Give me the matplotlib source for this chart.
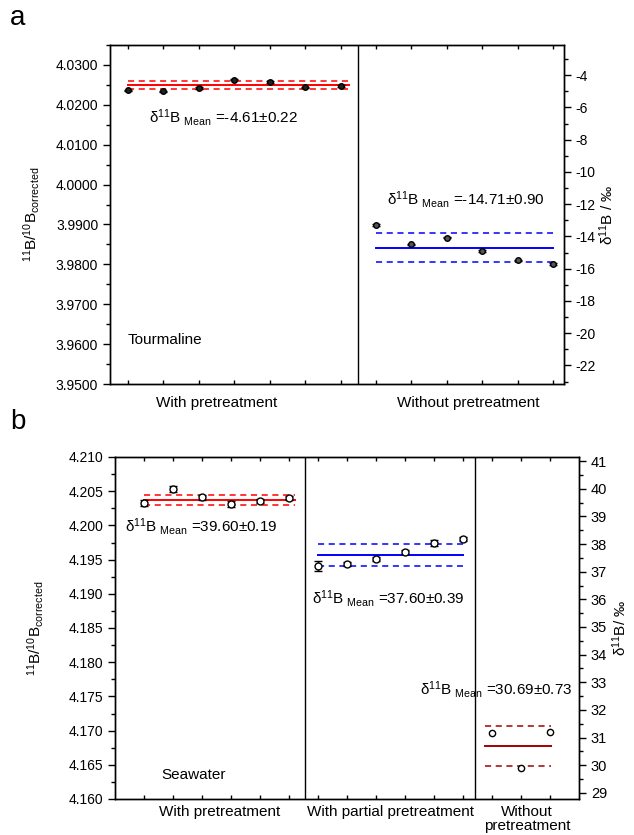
import numpy as np
import matplotlib.pyplot as plt
from matplotlib.ticker import MultipleLocator, FixedLocator

plt.rcParams['font.family'] = ['Liberation Sans', 'DejaVu Sans']
plt.rcParams['mathtext.fontset'] = 'custom'
plt.rcParams['mathtext.rm'] = 'Liberation Sans'
plt.rcParams['mathtext.default'] = 'regular'
plt.rcParams['axes.unicode_minus'] = False

# NIST SRM 951 ratio, used for the delta scale
R_STD = 4.04362

# --- panel a: tourmaline ---
tour_with = [4.0236, 4.0234, 4.0242, 4.0263, 4.0257, 4.0244, 4.0247]
tour_with_err = [0.00015, 0.00015, 0.00015, 0.00015, 0.00015, 0.00015, 0.00015]
tour_without = [3.9898, 3.9850, 3.9867, 3.9834, 3.9810, 3.9801]
tour_without_err = [0.0002, 0.0002, 0.0002, 0.0002, 0.0002, 0.0002]
tour_mean = [-4.61, -14.71]
tour_sd = [0.22, 0.90]
tour_groups = ['With pretreatment', 'Without pretreatment']

# --- panel b: seawater ---
sw_with = [4.2033, 4.2053, 4.2041, 4.2031, 4.2036, 4.2040]
sw_with_err = [0.0004, 0.0004, 0.0004, 0.0004, 0.0003, 0.0003]
sw_partial = [4.1941, 4.1944, 4.1951, 4.1961, 4.1974, 4.1980]
sw_partial_err = [0.0007, 0.0003, 0.0003, 0.0003, 0.0004, 0.0003]
sw_without = [4.1697, 4.1645, 4.1698]
sw_mean = [39.60, 37.60, 30.69]
sw_sd = [0.19, 0.39, 0.73]
sw_groups = ['With pretreatment', 'With partial pretreatment', 'Without\npretreatment']


def to_ratio(d):
    return R_STD * (1 + d / 1000.0)


def to_delta(r):
    return (r / R_STD - 1) * 1000.0


def mean_band(ax, x0, x1, d, sd, color, dcolor=None):
    dcolor = dcolor or color
    r = to_ratio(d)
    band = to_ratio(d + sd) - r
    ax.plot([x0, x1], [r, r], color=color, lw=1.4)
    ax.plot([x0, x1], [r + band, r + band], color=dcolor, lw=1.1, ls=(0, (4, 3)))
    ax.plot([x0, x1], [r - band, r - band], color=dcolor, lw=1.1, ls=(0, (4, 3)))


def style(ax, ax2, ylim, ymaj, ymin, d_maj, d_min, yfmt, fs_r, xpad):
    ax.set_ylim(*ylim)
    ax.yaxis.set_major_locator(MultipleLocator(ymaj))
    ax.yaxis.set_minor_locator(MultipleLocator(ymin))
    ax.yaxis.set_major_formatter(plt.FormatStrFormatter(yfmt))
    ax.tick_params(axis='y', which='major', direction='out', length=5, width=1, labelsize=10)
    ax.tick_params(axis='y', which='minor', direction='out', length=3, width=1)
    ax.tick_params(axis='x', which='major', length=0, labelsize=11, pad=xpad)
    ax.tick_params(axis='x', which='minor', direction='in', length=3, width=1, top=True, bottom=True)
    ax2.set_ylim(to_delta(ylim[0]), to_delta(ylim[1]))
    ax2.yaxis.set_major_locator(MultipleLocator(d_maj))
    ax2.yaxis.set_minor_locator(MultipleLocator(d_min))
    ax2.tick_params(axis='y', which='major', direction='out', length=5, width=1, labelsize=fs_r)
    ax2.tick_params(axis='y', which='minor', direction='out', length=3, width=1)
    for a in (ax, ax2):
        for s in a.spines.values():
            s.set_linewidth(1)


fig = plt.figure(figsize=(6.34, 8.35), dpi=100)

# ------------------ panel a ------------------
ax_a = fig.add_axes([110 / 634, 1 - 384 / 835, 454 / 634, 339 / 835])
ax_a2 = ax_a.twinx()
xa1 = np.arange(1, len(tour_with) + 1)
xa2 = np.arange(len(tour_with) + 1, len(tour_with) + len(tour_without) + 1)

mean_band(ax_a, 1.0, 7.25, tour_mean[0], tour_sd[0], 'red')
mean_band(ax_a, 8.0, 13.0, tour_mean[1], tour_sd[1], 'blue')
ax_a.errorbar(xa1, tour_with, yerr=tour_with_err, fmt='o', ms=4, mfc='#222222', mec='black',
              mew=1, ecolor='black', elinewidth=1, capsize=3, capthick=1, zorder=5)
ax_a.errorbar(xa2, tour_without, yerr=tour_without_err, fmt='o', ms=4, mfc='#555555', mec='black',
              mew=1, ecolor='black', elinewidth=1, capsize=3, capthick=1, zorder=5)
ax_a.axvline(7.5, color='black', lw=1)
ax_a.set_xlim(0.5, 13.3)
ax_a.set_xticks([3.5, 10.6])
ax_a.set_xticklabels(tour_groups)
ax_a.xaxis.set_minor_locator(FixedLocator(np.arange(1, 14)))
style(ax_a, ax_a2, (3.95, 4.035), 0.01, 0.005, 2, 1, '%.4f', 10, 9)
ax_a.set_ylabel('$^{11}$B/$^{10}$B$_{corrected}$', fontsize=11, labelpad=10)
ax_a2.set_ylabel('δ$^{11}$B / ‰', fontsize=11, labelpad=1)

ax_a.text(1.6, 4.0168, 'δ$^{11}$B$_{\\ Mean}$ =-4.61±0.22', fontsize=11, va='center')
ax_a.text(8.3, 3.9962, 'δ$^{11}$B$_{\\ Mean}$ =-14.71±0.90', fontsize=11, va='center')
ax_a.text(1.0, 3.9610, 'Tourmaline', fontsize=11, va='center')
fig.text(10 / 634, 1 - 18 / 835, 'a', fontsize=20, va='center')

# ------------------ panel b ------------------
ax_b = fig.add_axes([115 / 634, 1 - 799 / 835, 464 / 634, 342 / 835])
ax_b2 = ax_b.twinx()
xb1 = np.arange(1, 7)
xb2 = np.arange(7, 13)
xb3 = np.arange(13, 16)

mean_band(ax_b, 1.0, 6.2, sw_mean[0], sw_sd[0], 'red')
mean_band(ax_b, 7.0, 12.0, sw_mean[1], sw_sd[1], 'blue')
mean_band(ax_b, 12.75, 15.05, sw_mean[2], sw_sd[2], '#a00000')
ax_b.errorbar(xb1, sw_with, yerr=sw_with_err, fmt='o', ms=5, mfc='white', mec='black',
              mew=1, ecolor='black', elinewidth=1, capsize=3, capthick=1, zorder=5)
ax_b.errorbar(xb2, sw_partial, yerr=sw_partial_err, fmt='o', ms=5, mfc='white', mec='black',
              mew=1, ecolor='black', elinewidth=1, capsize=3, capthick=1, zorder=5)
ax_b.plot(xb3, sw_without, 'o', ms=4.5, mfc='white', mec='black', mew=1, zorder=5)
ax_b.axvline(6.55, color='black', lw=1)
ax_b.axvline(12.42, color='black', lw=1)
ax_b.set_xlim(0, 16)
ax_b.set_xticks([3.6, 9.5, 14.2])
ax_b.set_xticklabels(sw_groups, linespacing=1.05)
ax_b.xaxis.set_minor_locator(FixedLocator(np.arange(1, 16)))
style(ax_b, ax_b2, (4.16, 4.21), 0.005, 0.0025, 1, 0.5, '%.3f', 10.5, 4)
ax_b.set_ylabel('$^{11}$B/$^{10}$B$_{corrected}$', fontsize=11, labelpad=16)
ax_b2.set_ylabel('δ$^{11}$B/ ‰', fontsize=11, labelpad=2)

ax_b.text(0.35, 4.1998, 'δ$^{11}$B$_{\\ Mean}$ =39.60±0.19', fontsize=11, va='center')
ax_b.text(6.8, 4.1893, 'δ$^{11}$B$_{\\ Mean}$ =37.60±0.39', fontsize=11, va='center')
ax_b.text(10.5, 4.1760, 'δ$^{11}$B$_{\\ Mean}$ =30.69±0.73', fontsize=11, va='center')
ax_b.text(1.6, 4.1635, 'Seawater', fontsize=11, va='center')
fig.text(10 / 634, 1 - 422 / 835, 'b', fontsize=20, va='center')

fig.savefig('out.png', dpi=100)
